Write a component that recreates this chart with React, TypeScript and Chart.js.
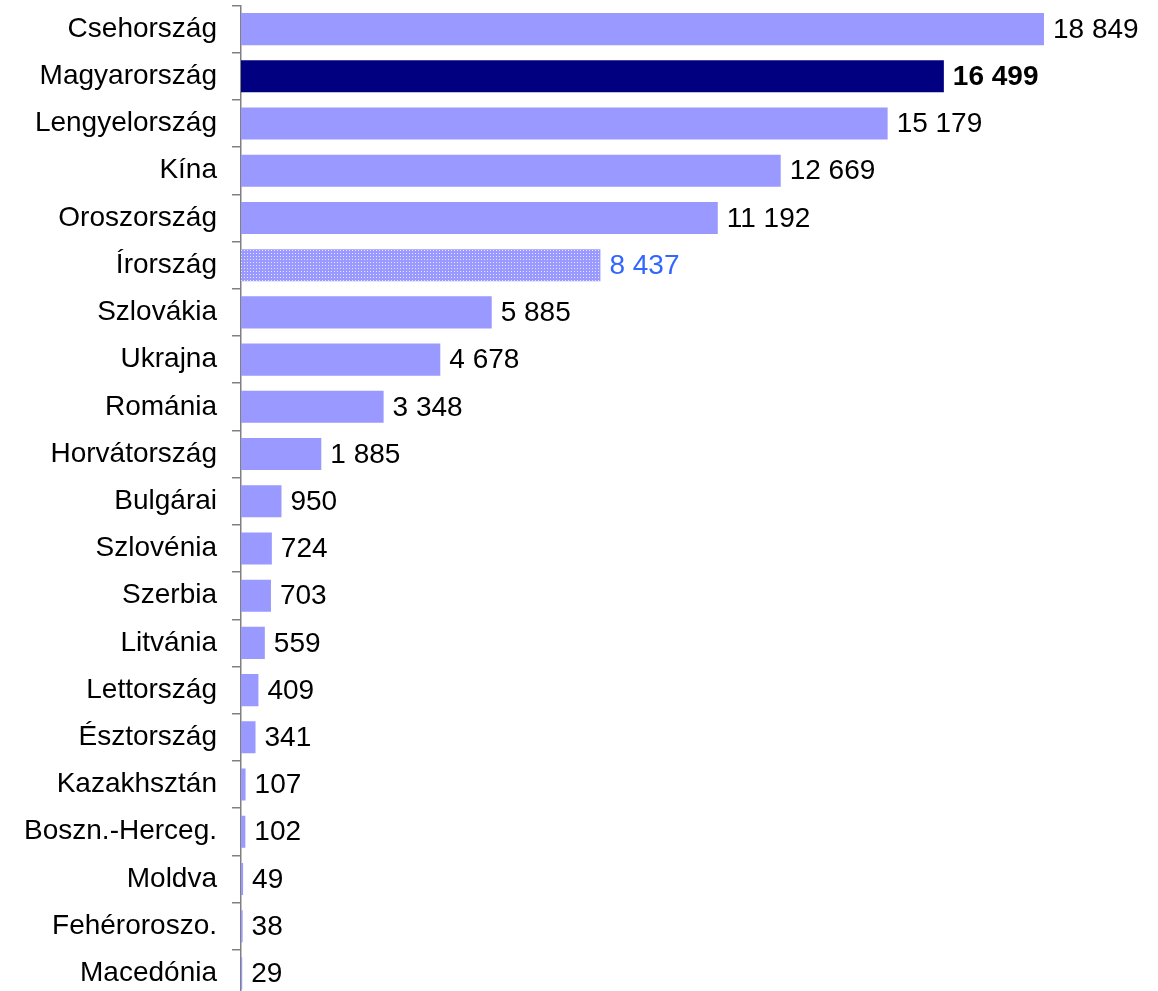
import React, { useEffect, useRef } from "react";
import { Chart, registerables } from "chart.js";

Chart.register(...registerables);

const categories = [
  "Csehország", "Magyarország", "Lengyelország", "Kína", "Oroszország", "Írország",
  "Szlovákia", "Ukrajna", "Románia", "Horvátország", "Bulgárai", "Szlovénia",
  "Szerbia", "Litvánia", "Lettország", "Észtország", "Kazakhsztán", "Boszn.-Herceg.",
  "Moldva", "Fehéroroszo.", "Macedónia",
];
const values = [
  18849, 16499, 15179, 12669, 11192, 8437, 5885, 4678, 3348, 1885, 950, 724,
  703, 559, 409, 341, 107, 102, 49, 38, 29,
];
const valueLabels = [
  "18 849", "16 499", "15 179", "12 669", "11 192", "8 437", "5 885", "4 678", "3 348",
  "1 885", "950", "724", "703", "559", "409", "341", "107", "102", "49", "38", "29",
];
const highlightIndex = 1;
const patternIndex = 5;

const FONT = "'Liberation Sans', Arial, Helvetica, sans-serif";
const BAR = "#9999FF";
const DARK = "#000080";
const PATTERN_LABEL = "#3366FF";

function makePattern(): CanvasPattern | string {
  const c = document.createElement("canvas");
  c.width = 3;
  c.height = 3;
  const ctx = c.getContext("2d");
  if (!ctx) return BAR;
  ctx.fillStyle = BAR;
  ctx.fillRect(0, 0, 3, 3);
  ctx.fillStyle = "#E6E6FF";
  ctx.fillRect(1, 1, 1, 1);
  return ctx.createPattern(c, "repeat") || BAR;
}

export default function App() {
  const ref = useRef<HTMLCanvasElement>(null);
  useEffect(() => {
    document.body.style.margin = "0";
    document.documentElement.style.overflow = "hidden";
    const canvas = ref.current;
    if (!canvas) return;
    const pattern = makePattern();
    const colors = values.map((_, i) =>
      i === highlightIndex ? DARK : i === patternIndex ? pattern : BAR
    );

    const labelPlugin = {
      id: "valueLabels",
      afterDatasetsDraw(chart: any) {
        const ctx = chart.ctx;
        const meta = chart.getDatasetMeta(0);
        ctx.save();
        ctx.textBaseline = "middle";
        ctx.textAlign = "left";
        meta.data.forEach((el: any, i: number) => {
          const bold = i === highlightIndex;
          ctx.font = `${bold ? "bold " : ""}28px ${FONT}`;
          ctx.fillStyle = i === patternIndex ? PATTERN_LABEL : "#000";
          ctx.fillText(valueLabels[i], el.x + 9, el.y + 1);
        });
        ctx.restore();
      },
    };

    const chart = new Chart(canvas, {
      type: "bar",
      data: {
        labels: categories,
        datasets: [
          {
            data: values,
            backgroundColor: colors as any,
            borderWidth: 0,
            barPercentage: 0.68,
            categoryPercentage: 1,
          },
        ],
      },
      options: {
        indexAxis: "y",
        animation: false,
        responsive: false,
        devicePixelRatio: 1,
        layout: { padding: { top: 5.5, right: 65, bottom: 0, left: 0 } },
        plugins: { legend: { display: false }, tooltip: { enabled: false } },
        scales: {
          x: { display: false, min: 0, max: 20000 },
          y: {
            type: "category",
            offset: true,
            grid: {
              offset: true,
              drawOnChartArea: false,
              drawTicks: true,
              tickLength: 9,
              color: "#808080",
              lineWidth: 1.5,
            },
            border: { display: true, color: "#808080", width: 1.5 },
            ticks: {
              color: "#000",
              padding: 15,
              font: { family: FONT, size: 28 },
              autoSkip: false,
            },
            afterFit(scale: any) {
              scale.width = 241;
              scale.paddingTop = 0;
              scale.paddingBottom = 0;
            },
          },
        },
      },
      plugins: [labelPlugin],
    });
    return () => chart.destroy();
  }, []);

  return (
    <div style={{ position: "fixed", left: 0, top: 0, width: 1158, height: 991, overflow: "hidden", background: "#fff" }}>
      <canvas ref={ref} width={1158} height={997} style={{ display: "block" }} />
    </div>
  );
}
